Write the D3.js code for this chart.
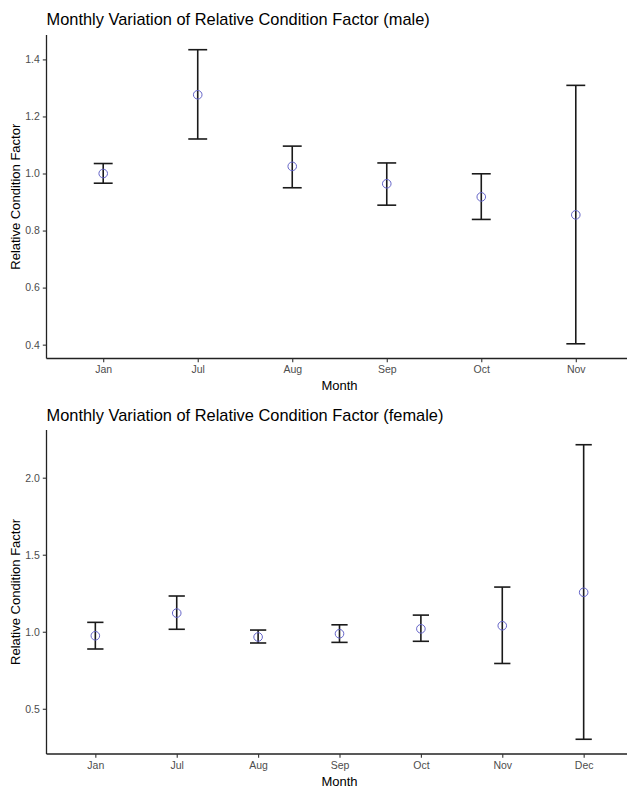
<!DOCTYPE html>
<html>
<head>
<meta charset="utf-8">
<script src="https://cdn.jsdelivr.net/npm/d3@7"></script>
<style>
    html, body { margin: 0; padding: 0; background: #fff; }
    svg { display: block; }
</style>
</head>
<body>
<div id="chart"></div>
<script>
// Male panel
const maleMonths = ["Jan", "Jul", "Aug", "Sep", "Oct", "Nov"]
const maleMean = [1.000, 1.276, 1.025, 0.964, 0.918, 0.855]
const maleLower = [0.966, 1.121, 0.950, 0.889, 0.839, 0.403]
const maleUpper = [1.035, 1.434, 1.096, 1.037, 0.999, 1.309]
const maleTicks = [0.4, 0.6, 0.8, 1.0, 1.2, 1.4]

// Female panel
const femaleMonths = ["Jan", "Jul", "Aug", "Sep", "Oct", "Nov", "Dec"]
const femaleMean = [0.974, 1.121, 0.966, 0.987, 1.019, 1.039, 1.256]
const femaleLower = [0.888, 1.016, 0.927, 0.931, 0.938, 0.794, 0.302]
const femaleUpper = [1.061, 1.232, 1.011, 1.045, 1.108, 1.290, 2.214]
const femaleTicks = [0.5, 1.0, 1.5, 2.0]

const width = 627
const height = 789

const svg = d3.select("#chart")
    .append("svg")
    .attr("width", width)
    .attr("height", height)
    .attr("viewBox", `0 0 ${width} ${height}`)

const font = "'Liberation Sans', Arial, sans-serif"

function drawPanel(opts) {
    const left = 46.5
    const right = 632.5
    const top = opts.top
    const bottom = opts.bottom

    const rows = opts.months.map((m, i) => ({
        month: m, mean: opts.mean[i], lo: opts.lower[i], hi: opts.upper[i]
    }))

    // ggplot style discrete scale: 0.6 step padding on each side
    const x = d3.scalePoint()
        .domain(opts.months)
        .range([left, right])
        .padding(0.6)
    const step = x.step()

    // continuous scale with 5% expansion
    const lo = d3.min(rows, d => d.lo)
    const hi = d3.max(rows, d => d.hi)
    const pad = (hi - lo) * 0.05
    const y = d3.scaleLinear()
        .domain([lo - pad, hi + pad])
        .range([bottom, top])

    const g = svg.append("g")

    // title
    g.append("text")
        .attr("x", left)
        .attr("y", opts.titleY)
        .attr("font-family", font)
        .attr("font-size", 16.4)
        .attr("fill", "#000")
        .text(opts.title)

    // error bars
    const bars = g.append("g")
        .attr("stroke", "#1a1a1a")
        .attr("stroke-width", 1.6)
        .attr("fill", "none")
    bars.selectAll("line.v")
        .data(rows)
        .join("line")
        .attr("class", "v")
        .attr("x1", d => x(d.month))
        .attr("x2", d => x(d.month))
        .attr("y1", d => y(d.lo))
        .attr("y2", d => y(d.hi))
    bars.selectAll("line.top")
        .data(rows)
        .join("line")
        .attr("class", "top")
        .attr("x1", d => x(d.month) - step * 0.1)
        .attr("x2", d => x(d.month) + step * 0.1)
        .attr("y1", d => y(d.hi))
        .attr("y2", d => y(d.hi))
    bars.selectAll("line.bot")
        .data(rows)
        .join("line")
        .attr("class", "bot")
        .attr("x1", d => x(d.month) - step * 0.1)
        .attr("x2", d => x(d.month) + step * 0.1)
        .attr("y1", d => y(d.lo))
        .attr("y2", d => y(d.lo))

    // mean points
    g.append("g")
        .selectAll("circle")
        .data(rows)
        .join("circle")
        .attr("cx", d => x(d.month))
        .attr("cy", d => y(d.mean))
        .attr("r", 4.3)
        .attr("fill", "none")
        .attr("stroke", "#6464c8")
        .attr("stroke-width", 1)

    // axes
    const yAxis = g.append("g")
        .attr("transform", translate(left, 0))
        .call(d3.axisLeft(y).tickValues(opts.ticks).tickFormat(d3.format(".1f")).tickSize(3.7).tickPadding(3))
    const xAxis = g.append("g")
        .attr("transform", translate(0, bottom))
        .call(d3.axisBottom(x).tickSize(3.7).tickPadding(3.5))

    for (const ax of [yAxis, xAxis]) {
        ax.select(".domain").attr("stroke", "#222").attr("stroke-width", 1.3)
        ax.selectAll(".tick line").attr("stroke", "#333").attr("stroke-width", 1.1)
        ax.selectAll(".tick text")
            .attr("font-family", font)
            .attr("font-size", 10.5)
            .attr("fill", "#4d4d4d")
    }
    yAxis.select(".domain").attr("d", `M0,${bottom}V${top}`)
    xAxis.select(".domain").attr("d", `M${left},0H${right}`)

    // axis titles
    g.append("text")
        .attr("x", (left + right) / 2)
        .attr("y", opts.xTitleY)
        .attr("text-anchor", "middle")
        .attr("font-family", font)
        .attr("font-size", 13)
        .attr("fill", "#000")
        .text("Month")
    g.append("text")
        .attr("transform", `${translate(20, (top + bottom) / 2)} rotate(-90)`)
        .attr("text-anchor", "middle")
        .attr("font-family", font)
        .attr("font-size", 13)
        .attr("fill", "#000")
        .text("Relative Condition Factor")
}

drawPanel({
    title: "Monthly Variation of Relative Condition Factor (male)",
    months: maleMonths, mean: maleMean, lower: maleLower, upper: maleUpper,
    ticks: maleTicks,
    top: 35, bottom: 358.5, titleY: 25, xTitleY: 390
})

drawPanel({
    title: "Monthly Variation of Relative Condition Factor (female)",
    months: femaleMonths, mean: femaleMean, lower: femaleLower, upper: femaleUpper,
    ticks: femaleTicks,
    top: 430, bottom: 754, titleY: 421, xTitleY: 786
})

function translate(x, y) {
    return `translate(${x},${y})`
}
</script>
</body>
</html>
